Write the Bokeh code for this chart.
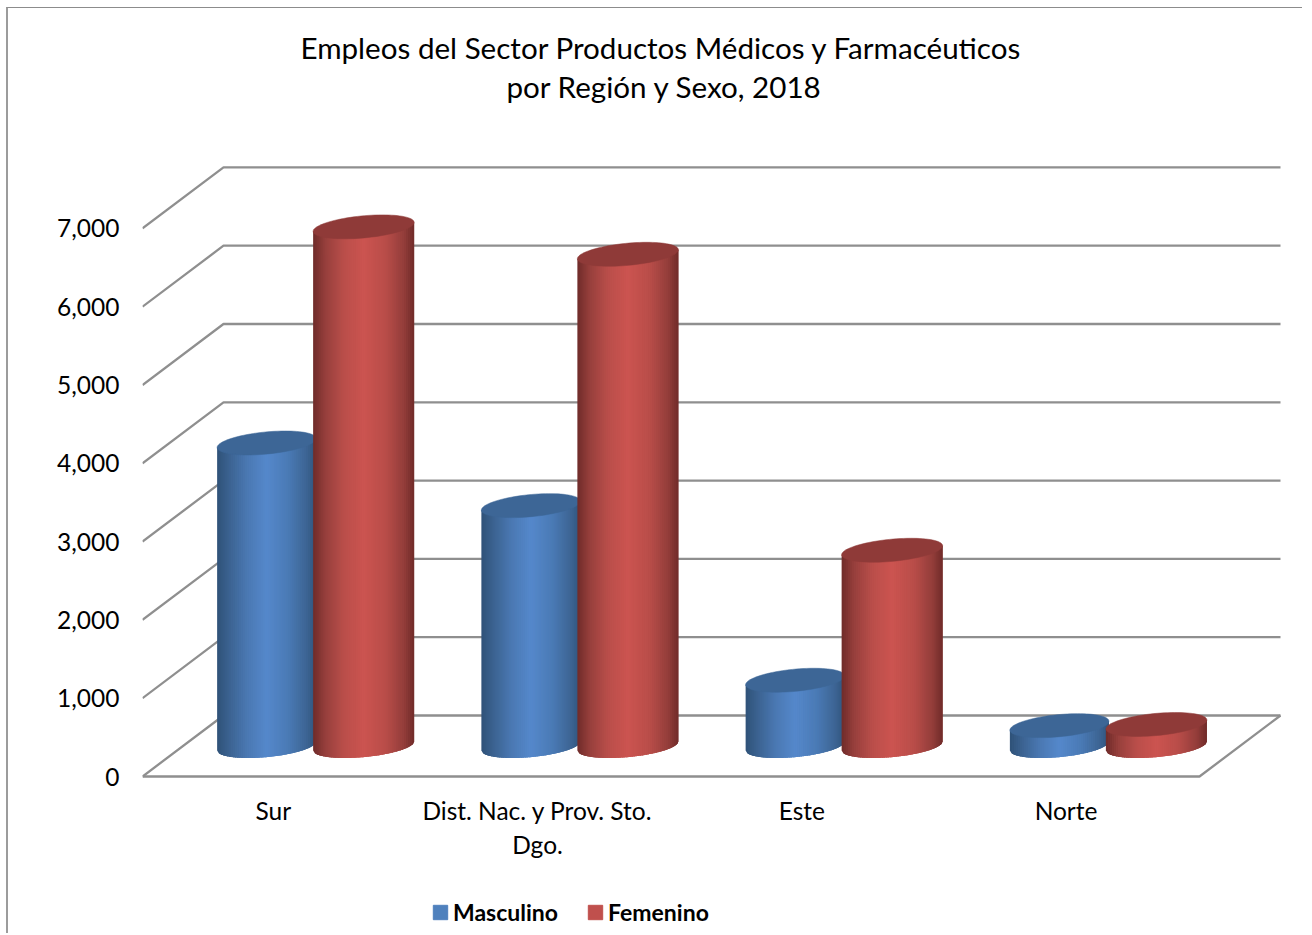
import numpy as np
from bokeh.embed import file_html
from bokeh.resources import INLINE
from bokeh.plotting import figure
from bokeh.models import FixedTicker, NumeralTickFormatter, Legend, LegendItem, Title, LinearAxis

categories = ["Sur", "Dist. Nac. y Prov. Sto.\nDgo.", "Este", "Norte"]
masculino = [3870, 3070, 840, 260]
femenino = [6630, 6280, 2500, 275]
y_ticks = [0, 1000, 2000, 3000, 4000, 5000, 6000, 7000]
title_lines = ["Empleos del Sector Productos Médicos y Farmacéuticos", "por Región y Sexo, 2018"]

# pseudo-3D projection, in data units
PX_X = 264.25      # px per category
PX_Y = 0.0783      # px per value unit
DEPTH_X = 81 / PX_X
DEPTH_Y = 61 / PX_Y
TILT = 4.5 / PX_Y
MINOR = 11.1 / PX_Y
OFF = 48.5 / PX_X

FONT = "Lato"
GRID = "#8f8f8f"

p = figure(width=1296, height=926, toolbar_location=None, output_backend="svg",
           x_range=(0, 1162 / PX_X), y_range=(-158 / PX_Y, 672 / PX_Y),
           x_axis_location=None,
           min_border_left=134, min_border_right=0, min_border_top=96, min_border_bottom=0,
           outline_line_color=None, background_fill_color="white")
p.styles = {"border-left": "2px solid #9c9c9c", "border-top": "1px solid #8c8c8c",
            "margin-left": "6px", "margin-top": "7px"}
p.title = None
for line, off in zip(reversed(title_lines), (364, 158)):
    p.add_layout(Title(text=line, align="left", offset=off, text_font=FONT,
                       text_font_size="29.6px", text_font_style="normal", text_color="#000000",
                       standoff=2), "above")
p.grid.visible = False

# axes
p.yaxis.ticker = FixedTicker(ticks=y_ticks)
p.yaxis.formatter = NumeralTickFormatter(format="0,0")
p.yaxis.axis_line_color = None
p.yaxis.major_tick_line_color = None
p.yaxis.minor_tick_line_color = None
p.yaxis.major_label_standoff = 17
p.yaxis.major_label_text_font = FONT
p.yaxis.major_label_text_font_size = "24.5px"
p.yaxis.major_label_text_color = "#000000"

cat_pos = [i + 0.495 for i in range(len(categories))]
xaxis = LinearAxis(fixed_location=0, ticker=FixedTicker(ticks=cat_pos),
                   major_label_overrides={c: l for c, l in zip(cat_pos, categories)},
                   axis_line_color=None, major_tick_line_color=None, minor_tick_line_color=None,
                   major_label_standoff=13, major_label_text_font=FONT,
                   major_label_text_font_size="24.5px", major_label_text_color="#000000")
p.add_layout(xaxis, "below")

# walls
n = len(categories)
for t in y_ticks:
    p.line([0, DEPTH_X, n + DEPTH_X], [t, t + DEPTH_Y, t + DEPTH_Y], line_color=GRID, line_width=2.3)
p.line([0, n, n + DEPTH_X], [0, 0, DEPTH_Y], line_color=GRID, line_width=2.3)


def shade(stops, f):
    fr = [s[0] for s in stops]
    ch = [np.interp(f, fr, [int(s[1][i:i + 2], 16) for s in stops]) for i in (1, 3, 5)]
    return "#%02x%02x%02x" % tuple(int(round(c)) for c in ch)


BLUE = [(0, "#2f5278"), (0.12, "#3b6290"), (0.3, "#4a78b2"), (0.5, "#5588cb"),
        (0.72, "#4a7ab5"), (0.9, "#3d6594"), (1, "#30547c")]
RED = [(0, "#6f2b29"), (0.12, "#963f3c"), (0.3, "#b94e4a"), (0.5, "#cc5450"),
       (0.72, "#b84d49"), (0.9, "#933d3a"), (1, "#702b29")]
BLUE_TOP = "#3d6696"
RED_TOP = "#8f3a38"


def cylinder(cx, v, stops, top, radius, strips=50):
    A = radius / PX_X
    base = DEPTH_Y / 2
    xs, ys, cs = [], [], []
    edges = np.linspace(-1, 1, strips + 1)
    step = edges[1] - edges[0]
    for a in edges[:-1]:
        # each strip runs under the next one, so that no seam shows
        b = min(a + 2.5 * step, 1)
        mid = np.linspace(a, b, 4)
        low = base + TILT * mid - MINOR * np.sqrt(np.clip(1 - mid * mid, 0, 1))
        up = v + base + TILT * mid
        xs.append(list(cx + A * mid) + list(cx + A * mid[::-1]))
        ys.append(list(low) + list(up[::-1]))
        cs.append(shade(stops, (a + step / 2 + 1) / 2))
    p.patches(xs, ys, fill_color=cs, line_color=None)
    t = np.linspace(0, 2 * np.pi, 90)
    p.patch(cx + A * np.cos(t), v + base + TILT * np.cos(t) + MINOR * np.sin(t),
            fill_color=top, line_color=top, line_width=0.5)


for i in range(n):
    c = i + 0.5 + DEPTH_X / 2
    cylinder(c - OFF, masculino[i], BLUE, BLUE_TOP, 49.5)
    cylinder(c + OFF, femenino[i], RED, RED_TOP, 50.5)

# legend: its swatches come from two quads that have no position on the chart
r_m = p.quad(left=[np.nan], right=[np.nan], top=[np.nan], bottom=[np.nan],
             fill_color="#4f81bd", line_color="#4f81bd")
r_f = p.quad(left=[np.nan], right=[np.nan], top=[np.nan], bottom=[np.nan],
             fill_color="#c0504d", line_color="#c0504d")
legend = Legend(items=[LegendItem(label="Masculino", renderers=[r_m]),
                       LegendItem(label="Femenino", renderers=[r_f])],
                orientation="horizontal", location=(289, 8), border_line_color=None,
                background_fill_alpha=0, glyph_width=18, glyph_height=18, label_standoff=4,
                spacing=28, label_text_font=FONT, label_text_font_size="23px",
                label_text_font_style="bold", label_text_color="#000000", margin=0, padding=0)
p.add_layout(legend)

open("out.html", "w").write(file_html(p, INLINE))
